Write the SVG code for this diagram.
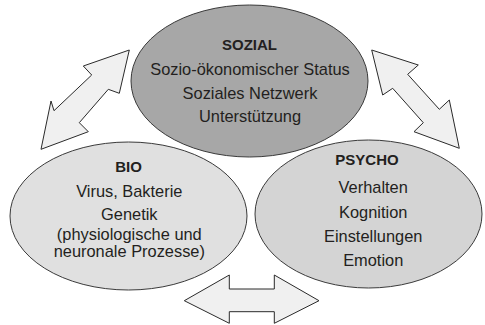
<svg xmlns="http://www.w3.org/2000/svg" width="485" height="325" viewBox="0 0 485 325">
<style>
.node{stroke:#3a3a3a;stroke-width:1}
.arrow{fill:#f0f0f0;stroke:#2a2a2a;stroke-width:1;stroke-linejoin:miter}
text{font-family:"Liberation Sans",Arial,sans-serif;fill:#231f20;text-anchor:middle}
.t{font-size:15px;font-weight:bold}
.l{font-size:16.4px}
</style>
<rect width="485" height="325" fill="#ffffff"/>
<g id="connectors">
<polygon class="arrow" points="129.3,50 119.3,93.3 108.3,89.3 79.3,122.7 88.3,131.7 41,149.3 51,101 54,110.7 91.7,75 83.3,66"/>
<polygon class="arrow" points="371.7,50 418.3,65 407.7,74.3 439.3,109.3 449.3,100 459.3,148.3 414,131.7 423.3,122.7 392.7,88.3 382.7,95"/>
<polygon class="arrow" points="184.3,300.7 229.3,275 229.3,289 274.3,289 274.3,275 319,300.7 274.3,323.3 274.3,311.7 229.3,311.7 229.3,323.3"/>
</g>
<g id="sozial">
<ellipse class="node" cx="249.5" cy="81" rx="118.5" ry="76" fill="#a7a7a7"/>
<text class="t" x="249.5" y="50">SOZIAL</text>
<text class="l" x="250" y="75">Sozio-ökonomischer Status</text>
<text class="l" x="250" y="98.5">Soziales Netzwerk</text>
<text class="l" x="250" y="122">Unterstützung</text>
</g>
<g id="bio">
<ellipse class="node" cx="128.5" cy="216" rx="118.5" ry="74" fill="#e0e0e0"/>
<text class="t" x="128.5" y="171.5">BIO</text>
<text class="l" x="129.3" y="197">Virus, Bakterie</text>
<text class="l" x="129.3" y="220">Genetik</text>
<text class="l" x="129.3" y="239.5">(physiologische und</text>
<text class="l" x="129.3" y="256.7">neuronale Prozesse)</text>
</g>
<g id="psycho">
<ellipse class="node" cx="368.5" cy="214" rx="113.5" ry="74" fill="#d4d4d4"/>
<text class="t" x="367" y="165">PSYCHO</text>
<text class="l" x="373.2" y="193.3">Verhalten</text>
<text class="l" x="373.2" y="218">Kognition</text>
<text class="l" x="373.2" y="241.7">Einstellungen</text>
<text class="l" x="373.2" y="265.7">Emotion</text>
</g>
</svg>
